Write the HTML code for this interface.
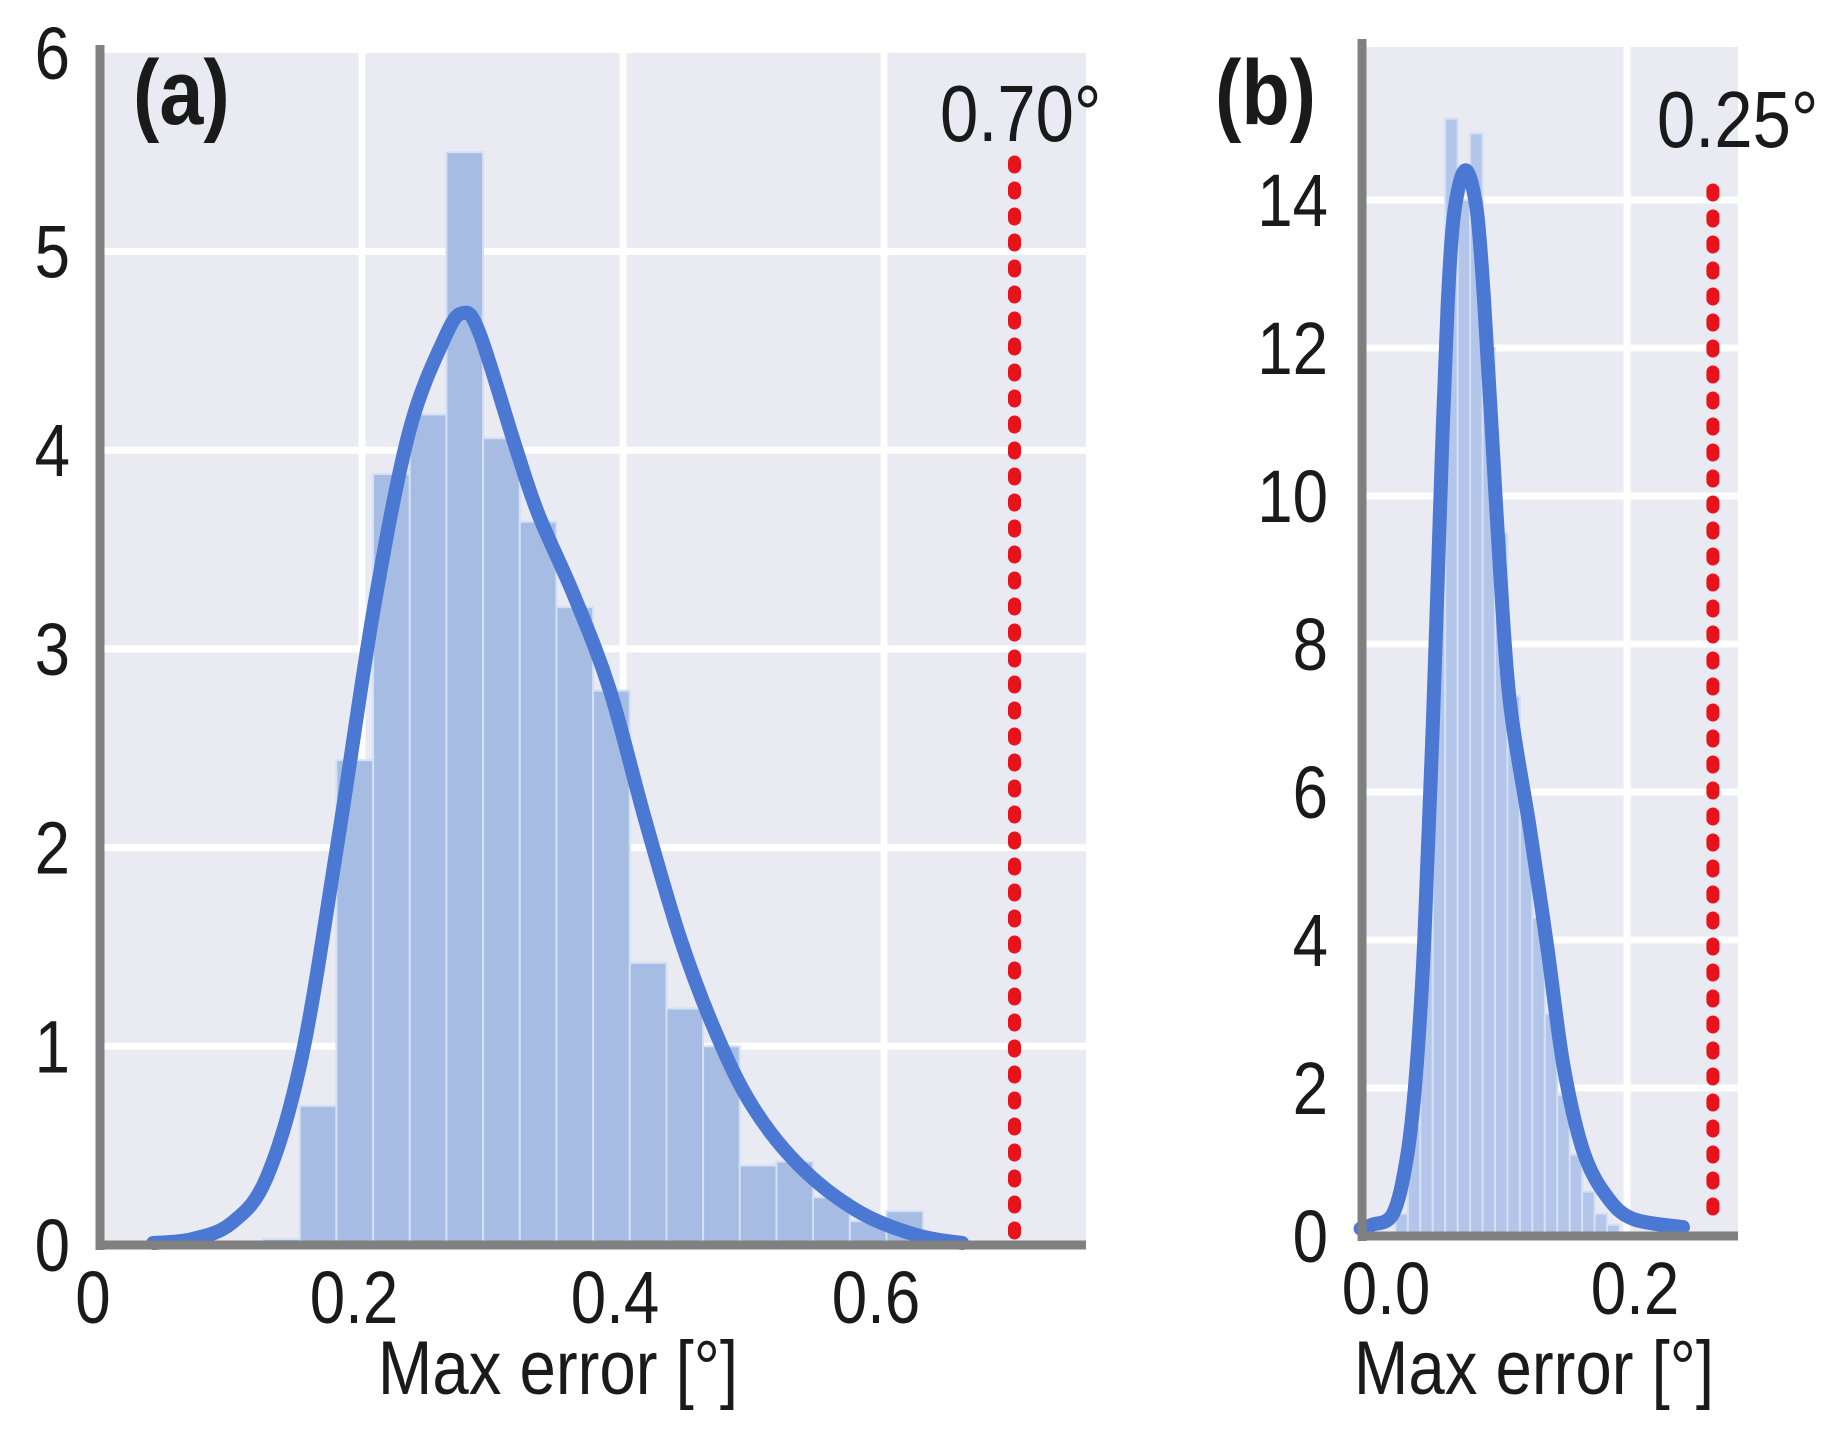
<!DOCTYPE html>
<html><head><meta charset="utf-8"><style>
html,body{margin:0;padding:0;background:#fff;}
svg{display:block;}
text{font-family:"Liberation Sans",sans-serif;fill:#1a1a1a;}
</style></head><body>
<svg id="fig" width="1843" height="1437" viewBox="0 0 1843 1437" xmlns="http://www.w3.org/2000/svg">
<g id="pa"></g>
<g id="pb"></g>
</svg>
<script>
// ---- Panel (a) data ----
const aBinStart = 0.1242;
const aBinWidth = 0.0281;
const aBarHeights = [0.03,0.70,2.44,3.88,4.18,5.5,4.06,3.64,3.21,2.79,1.42,1.19,1.0,0.40,0.42,0.24,0.12,0.17];
const aKdeX = [0.04,0.07,0.10,0.127,0.154,0.181,0.209,0.236,0.263,0.277,0.290,0.317,0.335,0.363,0.39,0.417,0.444,0.471,0.499,0.535,0.58,0.625,0.66];
const aKdeY = [0.01,0.03,0.11,0.34,0.95,2.01,3.20,4.09,4.56,4.69,4.59,4.03,3.68,3.26,2.79,2.14,1.54,1.07,0.70,0.40,0.17,0.05,0.01];
const aThreshold = 0.70;
const aThresholdLabel = "0.70°";
const aYTicks = [0,1,2,3,4,5,6];
const aXTicks = [0,0.2,0.4,0.6];
const aXTickLabels = ["0","0.2","0.4","0.6"];
// ---- Panel (b) data ----
const bBinStart = 0.014;
const bBinWidth = 0.01;
const bBarHeights = [0.3,1.5,4.5,9.0,15.1,14.0,14.9,12.0,9.5,7.3,5.7,4.3,3.0,1.9,1.1,0.6,0.3,0.15];
const bKdeX = [-0.014,-0.005,0.012,0.023,0.030,0.036,0.040,0.044,0.048,0.052,0.056,0.061,0.070,0.079,0.085,0.091,0.098,0.106,0.122,0.136,0.149,0.165,0.184,0.205,0.245];
const bKdeY = [0.1,0.15,0.3,1.04,2.07,3.6,5.2,6.9,8.9,10.9,12.6,13.8,14.4,13.9,12.7,11.0,9.0,7.2,5.5,3.9,2.3,1.14,0.53,0.23,0.12];
const bThreshold = 0.269;
const bThresholdLabel = "0.25°";
const bYTicks = [0,2,4,6,8,10,12,14];
const bXTicks = [0,0.2];
const bXTickLabels = ["0.0","0.2"];

const NS="http://www.w3.org/2000/svg";
function mk(parent,tag,attrs,txt){const e=document.createElementNS(NS,tag);for(const k in attrs)e.setAttribute(k,attrs[k]);if(txt!==undefined)e.textContent=txt;parent.appendChild(e);return e;}
function ctext(parent,x,y,size,anchor,str,weight){
  return mk(parent,'text',{transform:'translate('+x+' '+y+') scale(0.86 1)','font-size':size,'text-anchor':anchor,'font-weight':weight||'normal'},str);
}
function smooth(pts){
  let d='M'+pts[0][0].toFixed(1)+' '+pts[0][1].toFixed(1);
  for(let i=0;i<pts.length-1;i++){
    const p0=pts[Math.max(0,i-1)],p1=pts[i],p2=pts[i+1],p3=pts[Math.min(pts.length-1,i+2)];
    const c1=[p1[0]+(p2[0]-p0[0])/6,p1[1]+(p2[1]-p0[1])/6];
    const c2=[p2[0]-(p3[0]-p1[0])/6,p2[1]-(p3[1]-p1[1])/6];
    d+=' C'+c1[0].toFixed(1)+' '+c1[1].toFixed(1)+' '+c2[0].toFixed(1)+' '+c2[1].toFixed(1)+' '+p2[0].toFixed(1)+' '+p2[1].toFixed(1);
  }
  return d;
}

function drawPanel(g,cfg){
  const X=v=>cfg.x0+v*cfg.xs, Y=v=>cfg.y0-v*cfg.ys;
  const bg=mk(g,'rect',{x:cfg.left,y:cfg.top,width:cfg.right-cfg.left,height:cfg.y0-cfg.top,fill:'#e9eaf2'});
  
  
  cfg.yTicks.forEach(t=>{
    if(t>0 && Y(t)>cfg.top+3){
      const l=mk(g,'line',{x1:cfg.left,x2:cfg.right,y1:Y(t),y2:Y(t),stroke:'#fff','stroke-width':7});
      
      
    }
    const tx=ctext(g,cfg.yLabelRight,Y(t)+26,74,'end',String(t));
    
    
  });
  cfg.xTicks.forEach((t,i)=>{
    if(t>0){
      const l=mk(g,'line',{x1:X(t),x2:X(t),y1:cfg.top,y2:cfg.y0,stroke:'#fff','stroke-width':7});
      
      
    }
    const tx=ctext(g,X(t)+cfg.xLabelShift,cfg.y0+78,74,'middle',cfg.xTickLabels[i]);
    
    
  });
  cfg.bars.forEach((h,i)=>{
    const x1=X(cfg.binStart+i*cfg.binWidth), x2=X(cfg.binStart+(i+1)*cfg.binWidth);
    const r=mk(g,'rect',{x:x1,y:Y(h),width:x2-x1,height:cfg.y0-Y(h),fill:cfg.barFill,stroke:'#d4e0f6','stroke-width':2});
    
    
  });
  const pts=cfg.kx.map((v,i)=>[X(v),Y(cfg.ky[i])]);
  const p=mk(g,'path',{d:smooth(pts),fill:'none',stroke:'#4a78d2','stroke-width':cfg.lw,'stroke-linejoin':'round','stroke-linecap':'round'});
  
  
  const rl=mk(g,'line',{x1:X(cfg.thr),x2:X(cfg.thr),y1:cfg.thrTop,y2:cfg.y0-8,stroke:'#e8121a','stroke-width':13,'stroke-dasharray':'5 21','stroke-linecap':'round'});
  
  
  const ya=mk(g,'line',{x1:cfg.left,x2:cfg.left,y1:cfg.top-8,y2:cfg.y0+5,stroke:'#808080','stroke-width':9});
  
  
  const xa=mk(g,'line',{x1:cfg.left-4,x2:cfg.right,y1:cfg.y0,y2:cfg.y0,stroke:'#808080','stroke-width':9});
  
  
  const tl=ctext(g,cfg.thrLabelX,cfg.thrLabelY,80,'start',cfg.thrLabel);
  
  
  const pl=ctext(g,cfg.panelLabelX,124,92,'start',cfg.panelLabel,'bold');
  
  
  const xt=ctext(g,cfg.xTitleX,1394,76,'middle','Max error [°]');
  
  
}

drawPanel(document.getElementById('pa'),{
  left:100,right:1086,top:53,y0:1245,x0:101,xs:1305,ys:198.7,
  yTicks:aYTicks,xTicks:aXTicks,xTickLabels:aXTickLabels,yLabelRight:70,xLabelShift:-8,
  bars:aBarHeights,binStart:aBinStart,binWidth:aBinWidth,kx:aKdeX,ky:aKdeY,lw:14,barFill:'#a6bce3',
  thr:aThreshold,thrTop:162,thrLabel:aThresholdLabel,thrLabelX:940,thrLabelY:141,
  panelLabel:'(a)',panelLabelX:133,xTitleX:558
});
drawPanel(document.getElementById('pb'),{
  left:1362,right:1738,top:47,y0:1236,x0:1378,xs:1245,ys:74,
  yTicks:bYTicks,xTicks:bXTicks,xTickLabels:bXTickLabels,yLabelRight:1328,xLabelShift:8,
  bars:bBarHeights,binStart:bBinStart,binWidth:bBinWidth,kx:bKdeX,ky:bKdeY,lw:14,barFill:'#b3c6ea',
  thr:bThreshold,thrTop:190,thrLabel:bThresholdLabel,thrLabelX:1657,thrLabelY:147,
  panelLabel:'(b)',panelLabelX:1215,xTitleX:1534
});
</script>
</body></html>
